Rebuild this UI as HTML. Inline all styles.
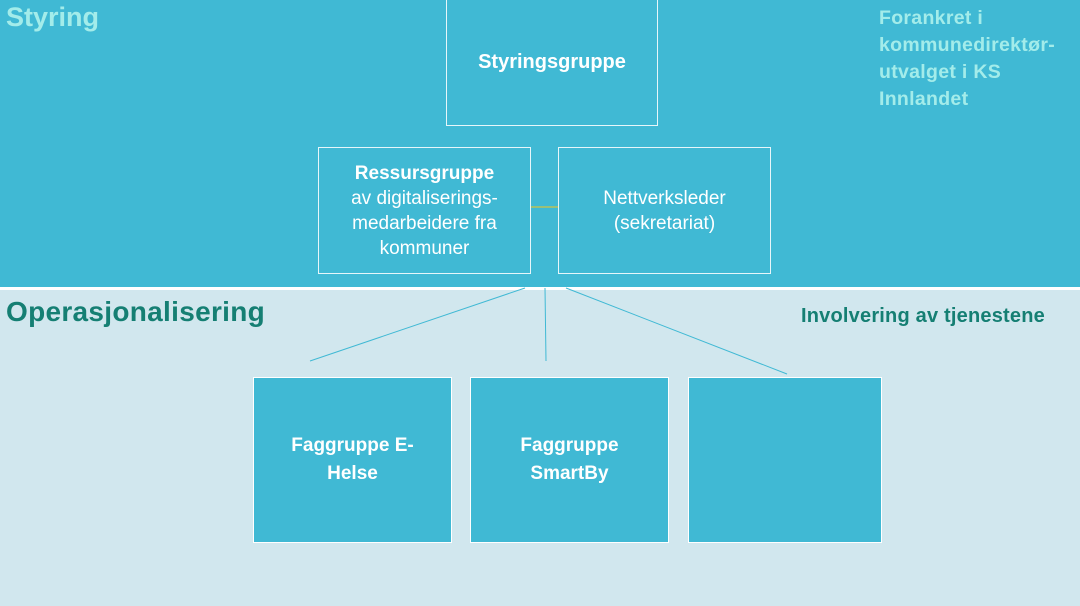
<!DOCTYPE html>
<html><head><meta charset="utf-8"><style>
body{margin:0;width:1080px;height:606px;position:relative;overflow:hidden;font-family:"Liberation Sans",sans-serif;background:#d1e7ee}
.top{position:absolute;left:0;top:0;width:1080px;height:287px;background:#40b9d4}
.sep{position:absolute;left:0;top:287px;width:1080px;height:3px;background:#fff}
.b{position:absolute;box-sizing:border-box;border:1px solid #e6f6fa;display:flex;align-items:center;justify-content:center;text-align:center;color:#fff;font-size:19px;line-height:25px}
.f{background:#40b9d4;border:1.5px solid #fff;font-weight:bold;font-size:19px;line-height:28px}
.t{position:absolute;font-weight:bold}
</style></head><body>
<div class="top"></div><div class="sep"></div>
<div class="t" style="left:6px;top:2px;font-size:27px;color:#a3ecea">Styring</div>
<div class="t" style="left:879px;top:5px;font-size:19.5px;line-height:27px;color:#a3ecea;letter-spacing:0.3px">Forankret i<br>kommunedirektør-<br>utvalget i KS<br>Innlandet</div>
<div class="b" style="left:446px;top:-2px;width:212px;height:128px;font-weight:bold;font-size:20px">Styringsgruppe</div>
<div class="b" style="left:318px;top:147px;width:213px;height:127px"><div><b>Ressursgruppe</b><br>av digitaliserings-<br>medarbeidere fra<br>kommuner</div></div>
<div class="b" style="left:558px;top:147px;width:213px;height:127px"><div>Nettverksleder<br>(sekretariat)</div></div>
<svg style="position:absolute;left:0;top:0" width="1080" height="606">
<line x1="531" y1="207" x2="558" y2="207" stroke="#b7c25a" stroke-width="1.5"/>
<line x1="525" y1="288" x2="310" y2="361" stroke="#40b9d4" stroke-width="1"/>
<line x1="545" y1="288" x2="546" y2="361" stroke="#40b9d4" stroke-width="1"/>
<line x1="566" y1="288" x2="787" y2="374" stroke="#40b9d4" stroke-width="1"/>
</svg>
<div class="t" style="left:6px;top:296px;font-size:28px;color:#157f73;letter-spacing:0.3px">Operasjonalisering</div>
<div class="t" style="left:801px;top:305px;font-size:20px;color:#157f73;letter-spacing:0.2px">Involvering av tjenestene</div>
<div class="b f" style="left:253px;top:377px;width:199px;height:166px">Faggruppe E-<br>Helse</div>
<div class="b f" style="left:470px;top:377px;width:199px;height:166px">Faggruppe<br>SmartBy</div>
<div class="b f" style="left:688px;top:377px;width:194px;height:166px"></div>
</body></html>
